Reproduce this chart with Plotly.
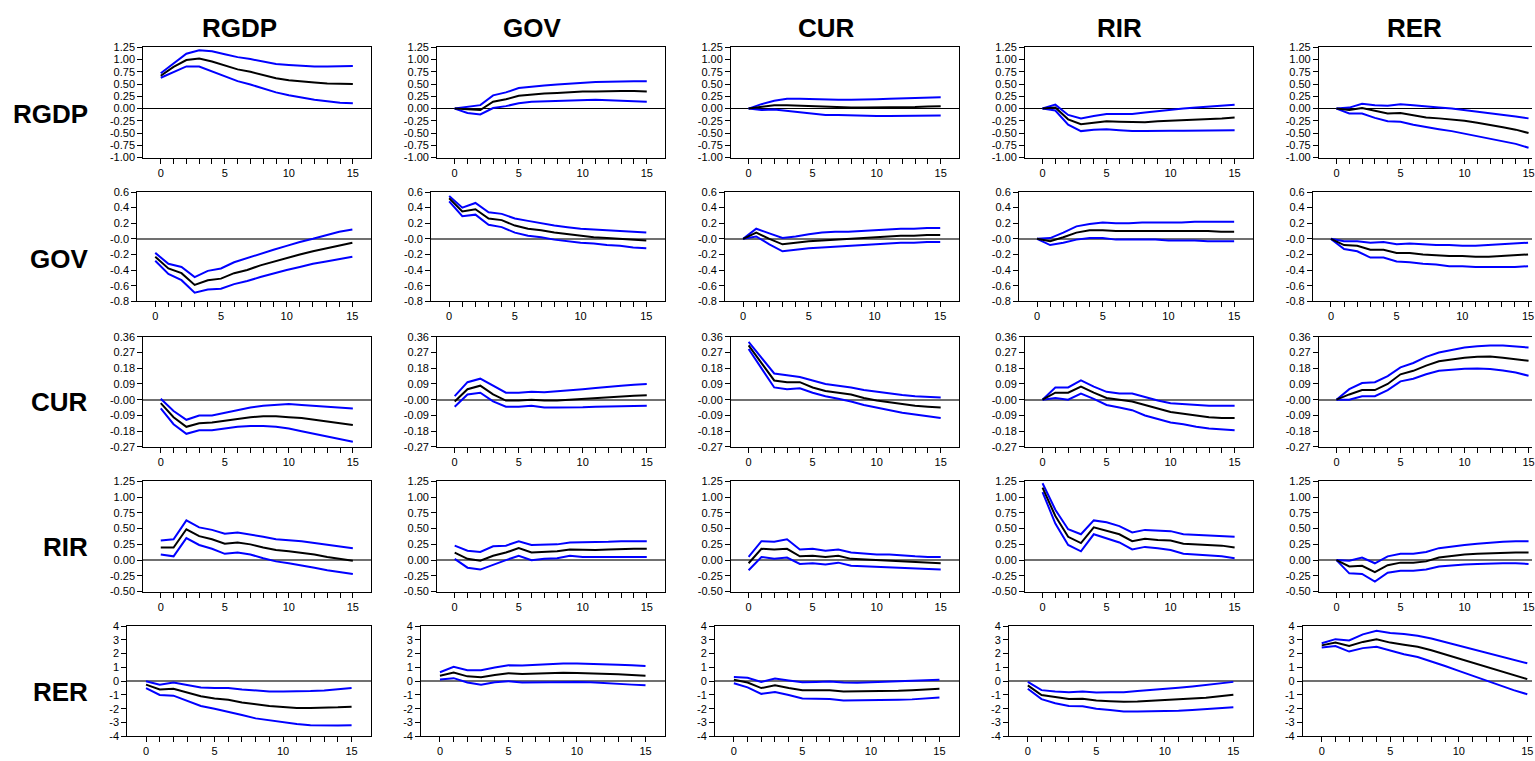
import plotly.graph_objects as go

# ---------------- data ----------------
horizons = list(range(16))
variables = ["RGDP", "GOV", "CUR", "RIR", "RER"]

# Row RGDP
RGDP_RGDP_mid = [0.67, 0.85, 0.99, 1.02, 0.96, 0.88, 0.80, 0.75, 0.68, 0.62, 0.58, 0.55, 0.53, 0.51, 0.50, 0.50]
RGDP_RGDP_hi = [0.72, 0.92, 1.12, 1.19, 1.17, 1.11, 1.05, 1.01, 0.96, 0.91, 0.89, 0.87, 0.86, 0.86, 0.87, 0.87]
RGDP_RGDP_lo = [0.63, 0.75, 0.86, 0.86, 0.76, 0.66, 0.56, 0.49, 0.41, 0.33, 0.27, 0.22, 0.18, 0.15, 0.12, 0.11]

RGDP_GOV_mid = [0.0, -0.02, -0.03, 0.14, 0.19, 0.26, 0.29, 0.31, 0.32, 0.34, 0.35, 0.35, 0.36, 0.36, 0.36, 0.35]
RGDP_GOV_hi = [0.0, 0.03, 0.07, 0.27, 0.33, 0.42, 0.45, 0.47, 0.49, 0.51, 0.53, 0.54, 0.55, 0.56, 0.56, 0.56]
RGDP_GOV_lo = [0.0, -0.09, -0.12, 0.01, 0.05, 0.11, 0.14, 0.15, 0.16, 0.17, 0.18, 0.18, 0.17, 0.16, 0.15, 0.14]

RGDP_CUR_mid = [0.0, 0.04, 0.07, 0.07, 0.06, 0.04, 0.03, 0.02, 0.02, 0.02, 0.02, 0.02, 0.03, 0.03, 0.04, 0.05]
RGDP_CUR_hi = [0.0, 0.09, 0.16, 0.20, 0.20, 0.19, 0.18, 0.18, 0.18, 0.18, 0.19, 0.20, 0.21, 0.22, 0.22, 0.23]
RGDP_CUR_lo = [0.0, -0.03, -0.02, -0.05, -0.08, -0.10, -0.13, -0.13, -0.14, -0.15, -0.15, -0.15, -0.15, -0.14, -0.14, -0.14]

RGDP_RIR_mid = [0.0, 0.02, -0.22, -0.32, -0.29, -0.26, -0.27, -0.28, -0.28, -0.26, -0.25, -0.24, -0.23, -0.21, -0.20, -0.18]
RGDP_RIR_hi = [0.0, 0.08, -0.13, -0.20, -0.15, -0.11, -0.11, -0.11, -0.08, -0.05, -0.02, 0.00, 0.02, 0.04, 0.06, 0.08]
RGDP_RIR_lo = [0.0, -0.04, -0.33, -0.46, -0.43, -0.42, -0.44, -0.46, -0.46, -0.45, -0.45, -0.45, -0.45, -0.45, -0.44, -0.44]

RGDP_RER_mid = [0.0, -0.03, 0.01, -0.05, -0.10, -0.09, -0.13, -0.18, -0.20, -0.22, -0.25, -0.29, -0.33, -0.38, -0.43, -0.50]
RGDP_RER_hi = [0.0, 0.02, 0.10, 0.07, 0.06, 0.09, 0.07, 0.04, 0.02, 0.00, -0.03, -0.06, -0.09, -0.12, -0.16, -0.20]
RGDP_RER_lo = [0.0, -0.10, -0.10, -0.19, -0.26, -0.27, -0.33, -0.38, -0.42, -0.46, -0.51, -0.56, -0.61, -0.66, -0.72, -0.80]

# Row GOV
GOV_RGDP_mid = [-0.23, -0.38, -0.44, -0.59, -0.53, -0.51, -0.44, -0.40, -0.34, -0.29, -0.24, -0.20, -0.16, -0.12, -0.09, -0.05]
GOV_RGDP_hi = [-0.18, -0.32, -0.36, -0.49, -0.41, -0.38, -0.30, -0.25, -0.19, -0.14, -0.09, -0.04, 0.00, 0.05, 0.09, 0.12]
GOV_RGDP_lo = [-0.28, -0.45, -0.53, -0.69, -0.65, -0.64, -0.58, -0.54, -0.49, -0.44, -0.40, -0.36, -0.32, -0.29, -0.26, -0.23]

GOV_GOV_mid = [0.52, 0.35, 0.38, 0.26, 0.24, 0.17, 0.13, 0.11, 0.08, 0.06, 0.04, 0.02, 0.01, 0.00, -0.01, -0.02]
GOV_GOV_hi = [0.55, 0.40, 0.46, 0.34, 0.32, 0.26, 0.23, 0.20, 0.17, 0.15, 0.13, 0.12, 0.11, 0.10, 0.09, 0.08]
GOV_GOV_lo = [0.48, 0.29, 0.31, 0.18, 0.15, 0.08, 0.04, 0.02, -0.01, -0.03, -0.05, -0.06, -0.08, -0.09, -0.11, -0.12]

GOV_CUR_mid = [0.0, 0.08, 0.00, -0.07, -0.05, -0.03, -0.02, -0.01, 0.00, 0.01, 0.02, 0.03, 0.04, 0.04, 0.05, 0.05]
GOV_CUR_hi = [0.0, 0.13, 0.07, 0.01, 0.03, 0.06, 0.08, 0.09, 0.09, 0.10, 0.11, 0.12, 0.13, 0.13, 0.14, 0.14]
GOV_CUR_lo = [0.0, 0.03, -0.07, -0.16, -0.14, -0.12, -0.11, -0.10, -0.09, -0.08, -0.07, -0.06, -0.05, -0.05, -0.04, -0.04]

GOV_RIR_mid = [0.0, -0.03, 0.02, 0.08, 0.11, 0.11, 0.10, 0.10, 0.10, 0.10, 0.10, 0.10, 0.10, 0.10, 0.09, 0.09]
GOV_RIR_hi = [0.0, 0.01, 0.08, 0.16, 0.19, 0.21, 0.20, 0.20, 0.21, 0.21, 0.21, 0.21, 0.22, 0.22, 0.22, 0.22]
GOV_RIR_lo = [0.0, -0.08, -0.05, -0.01, 0.01, 0.01, -0.01, -0.01, -0.01, -0.01, -0.02, -0.02, -0.02, -0.03, -0.03, -0.03]

GOV_RER_mid = [0.0, -0.08, -0.09, -0.14, -0.14, -0.18, -0.18, -0.20, -0.21, -0.22, -0.22, -0.23, -0.23, -0.22, -0.21, -0.20]
GOV_RER_hi = [0.0, -0.03, -0.03, -0.05, -0.04, -0.07, -0.06, -0.07, -0.08, -0.08, -0.09, -0.09, -0.08, -0.07, -0.06, -0.05]
GOV_RER_lo = [0.0, -0.13, -0.16, -0.24, -0.24, -0.29, -0.30, -0.32, -0.33, -0.35, -0.35, -0.36, -0.36, -0.36, -0.36, -0.35]

# Row CUR
CUR_RGDP_mid = [-0.02, -0.10, -0.155, -0.135, -0.13, -0.12, -0.11, -0.10, -0.095, -0.095, -0.10, -0.105, -0.115, -0.125, -0.135, -0.145]
CUR_RGDP_hi = [0.005, -0.065, -0.115, -0.09, -0.09, -0.075, -0.06, -0.045, -0.035, -0.03, -0.025, -0.03, -0.035, -0.04, -0.045, -0.05]
CUR_RGDP_lo = [-0.05, -0.14, -0.195, -0.175, -0.175, -0.165, -0.155, -0.15, -0.15, -0.155, -0.165, -0.18, -0.195, -0.21, -0.225, -0.24]

CUR_GOV_mid = [-0.01, 0.06, 0.08, 0.03, -0.005, -0.005, 0.0, -0.005, -0.005, 0.0, 0.005, 0.01, 0.015, 0.02, 0.022, 0.025]
CUR_GOV_hi = [0.02, 0.10, 0.12, 0.08, 0.04, 0.04, 0.045, 0.042, 0.047, 0.052, 0.06, 0.067, 0.075, 0.08, 0.085, 0.09]
CUR_GOV_lo = [-0.04, 0.03, 0.04, -0.01, -0.04, -0.04, -0.035, -0.045, -0.045, -0.045, -0.043, -0.04, -0.038, -0.037, -0.036, -0.035]

CUR_CUR_mid = [0.31, 0.21, 0.11, 0.10, 0.10, 0.07, 0.05, 0.04, 0.03, 0.01, -0.005, -0.015, -0.025, -0.035, -0.04, -0.045]
CUR_CUR_hi = [0.33, 0.24, 0.15, 0.14, 0.13, 0.11, 0.09, 0.08, 0.07, 0.055, 0.045, 0.035, 0.027, 0.02, 0.015, 0.013]
CUR_CUR_lo = [0.29, 0.18, 0.07, 0.06, 0.065, 0.04, 0.02, 0.005, -0.01, -0.03, -0.045, -0.06, -0.075, -0.085, -0.095, -0.105]

CUR_RIR_mid = [0.0, 0.04, 0.04, 0.075, 0.04, 0.01, 0.0, -0.01, -0.03, -0.05, -0.07, -0.08, -0.09, -0.10, -0.105, -0.105]
CUR_RIR_hi = [0.0, 0.07, 0.07, 0.11, 0.075, 0.045, 0.035, 0.035, 0.015, -0.005, -0.02, -0.025, -0.03, -0.035, -0.035, -0.035]
CUR_RIR_lo = [0.0, 0.01, 0.0, 0.035, 0.005, -0.03, -0.045, -0.06, -0.09, -0.11, -0.13, -0.14, -0.155, -0.165, -0.17, -0.175]

CUR_RER_mid = [0.0, 0.03, 0.055, 0.055, 0.09, 0.145, 0.165, 0.195, 0.22, 0.232, 0.24, 0.245, 0.247, 0.24, 0.232, 0.222]
CUR_RER_hi = [0.0, 0.06, 0.095, 0.10, 0.135, 0.185, 0.21, 0.245, 0.27, 0.285, 0.298, 0.305, 0.31, 0.31, 0.305, 0.298]
CUR_RER_lo = [0.0, 0.0, 0.02, 0.02, 0.055, 0.105, 0.12, 0.145, 0.165, 0.172, 0.177, 0.178, 0.175, 0.167, 0.155, 0.137]

# Row RIR
RIR_RGDP_mid = [0.20, 0.20, 0.49, 0.38, 0.33, 0.26, 0.28, 0.25, 0.20, 0.16, 0.14, 0.12, 0.09, 0.05, 0.02, -0.01]
RIR_RGDP_hi = [0.31, 0.33, 0.63, 0.52, 0.48, 0.42, 0.44, 0.41, 0.37, 0.33, 0.32, 0.30, 0.27, 0.24, 0.21, 0.19]
RIR_RGDP_lo = [0.09, 0.06, 0.35, 0.24, 0.18, 0.10, 0.12, 0.09, 0.03, -0.02, -0.05, -0.08, -0.12, -0.16, -0.19, -0.22]

RIR_GOV_mid = [0.12, 0.02, -0.01, 0.07, 0.12, 0.19, 0.12, 0.13, 0.14, 0.17, 0.16, 0.16, 0.17, 0.18, 0.18, 0.18]
RIR_GOV_hi = [0.23, 0.15, 0.13, 0.22, 0.23, 0.30, 0.24, 0.24, 0.25, 0.28, 0.28, 0.28, 0.29, 0.30, 0.30, 0.30]
RIR_GOV_lo = [0.02, -0.12, -0.15, -0.07, 0.00, 0.07, 0.00, 0.02, 0.03, 0.07, 0.05, 0.05, 0.05, 0.06, 0.05, 0.05]

RIR_CUR_mid = [-0.05, 0.18, 0.17, 0.18, 0.06, 0.07, 0.05, 0.07, 0.02, 0.01, -0.01, -0.01, -0.03, -0.04, -0.05, -0.05]
RIR_CUR_hi = [0.05, 0.30, 0.29, 0.33, 0.17, 0.18, 0.15, 0.17, 0.12, 0.10, 0.09, 0.09, 0.07, 0.06, 0.05, 0.05]
RIR_CUR_lo = [-0.16, 0.05, 0.02, 0.04, -0.06, -0.05, -0.07, -0.04, -0.09, -0.10, -0.11, -0.11, -0.13, -0.14, -0.15, -0.15]

RIR_RIR_mid = [1.15, 0.70, 0.37, 0.27, 0.52, 0.47, 0.41, 0.30, 0.34, 0.32, 0.31, 0.26, 0.25, 0.23, 0.23, 0.20]
RIR_RIR_hi = [1.22, 0.80, 0.49, 0.41, 0.63, 0.60, 0.54, 0.44, 0.48, 0.47, 0.46, 0.41, 0.40, 0.39, 0.39, 0.37]
RIR_RIR_lo = [1.08, 0.58, 0.24, 0.14, 0.41, 0.34, 0.28, 0.17, 0.21, 0.19, 0.16, 0.10, 0.09, 0.07, 0.06, 0.03]

RIR_RER_mid = [0.0, -0.10, -0.09, -0.19, -0.08, -0.04, -0.04, -0.02, 0.04, 0.07, 0.09, 0.10, 0.11, 0.12, 0.12, 0.12]
RIR_RER_hi = [0.0, -0.01, 0.04, -0.05, 0.06, 0.10, 0.10, 0.13, 0.19, 0.22, 0.24, 0.26, 0.28, 0.29, 0.30, 0.30]
RIR_RER_lo = [0.0, -0.21, -0.22, -0.34, -0.20, -0.17, -0.17, -0.15, -0.10, -0.08, -0.07, -0.06, -0.05, -0.05, -0.05, -0.06]

# Row RER
RER_RGDP_mid = [-0.25, -0.60, -0.55, -0.80, -1.10, -1.25, -1.35, -1.55, -1.70, -1.80, -1.88, -1.95, -1.95, -1.95, -1.90, -1.85]
RER_RGDP_hi = [0.0, -0.25, -0.10, -0.25, -0.45, -0.50, -0.50, -0.60, -0.70, -0.75, -0.75, -0.75, -0.72, -0.68, -0.60, -0.50]
RER_RGDP_lo = [-0.50, -1.00, -1.05, -1.40, -1.80, -2.00, -2.20, -2.45, -2.70, -2.85, -3.00, -3.10, -3.20, -3.22, -3.22, -3.20]

RER_GOV_mid = [0.40, 0.62, 0.35, 0.28, 0.45, 0.58, 0.52, 0.55, 0.60, 0.62, 0.60, 0.58, 0.55, 0.50, 0.45, 0.40]
RER_GOV_hi = [0.65, 1.05, 0.80, 0.80, 1.00, 1.15, 1.13, 1.18, 1.25, 1.28, 1.28, 1.27, 1.25, 1.20, 1.15, 1.10]
RER_GOV_lo = [0.12, 0.22, -0.10, -0.25, -0.08, 0.00, -0.10, -0.08, -0.05, -0.03, -0.05, -0.08, -0.12, -0.18, -0.25, -0.30]

RER_CUR_mid = [0.10, -0.10, -0.50, -0.30, -0.50, -0.65, -0.65, -0.65, -0.75, -0.75, -0.73, -0.72, -0.70, -0.65, -0.60, -0.55]
RER_CUR_hi = [0.30, 0.25, -0.05, 0.20, 0.05, -0.08, -0.05, -0.03, -0.10, -0.12, -0.08, -0.05, -0.03, 0.00, 0.05, 0.10]
RER_CUR_lo = [-0.15, -0.45, -0.92, -0.78, -1.00, -1.25, -1.27, -1.30, -1.40, -1.40, -1.40, -1.38, -1.35, -1.32, -1.25, -1.18]

RER_RIR_mid = [-0.30, -1.00, -1.15, -1.30, -1.28, -1.40, -1.45, -1.50, -1.48, -1.43, -1.38, -1.33, -1.28, -1.20, -1.10, -0.98]
RER_RIR_hi = [-0.05, -0.65, -0.75, -0.80, -0.75, -0.82, -0.80, -0.80, -0.72, -0.62, -0.55, -0.47, -0.38, -0.28, -0.17, -0.05]
RER_RIR_lo = [-0.55, -1.30, -1.60, -1.80, -1.82, -2.00, -2.10, -2.20, -2.20, -2.20, -2.18, -2.15, -2.10, -2.05, -1.98, -1.90]

RER_RER_mid = [2.60, 2.80, 2.55, 2.85, 3.05, 2.80, 2.65, 2.50, 2.25, 1.95, 1.65, 1.35, 1.05, 0.75, 0.45, 0.15]
RER_RER_hi = [2.75, 3.05, 2.95, 3.40, 3.65, 3.50, 3.42, 3.30, 3.10, 2.85, 2.60, 2.35, 2.10, 1.80, 1.55, 1.30]
RER_RER_lo = [2.45, 2.55, 2.15, 2.40, 2.50, 2.20, 1.95, 1.75, 1.45, 1.10, 0.75, 0.40, 0.00, -0.35, -0.65, -0.95]

# Axis ticks per row
row_tickvals = [
    [1.25, 1.0, 0.75, 0.5, 0.25, 0.0, -0.25, -0.5, -0.75, -1.0],
    [0.6, 0.4, 0.2, 0.0, -0.2, -0.4, -0.6, -0.8],
    [0.36, 0.27, 0.18, 0.09, 0.0, -0.09, -0.18, -0.27],
    [1.25, 1.0, 0.75, 0.5, 0.25, 0.0, -0.25, -0.5],
    [4, 3, 2, 1, 0, -1, -2, -3, -4],
]
row_ticktext = [
    ["1.25", "1.00", "0.75", "0.50", "0.25", "0.00", "-0.25", "-0.50", "-0.75", "-1.00"],
    ["0.6", "0.4", "0.2", "-0.0", "-0.2", "-0.4", "-0.6", "-0.8"],
    ["0.36", "0.27", "0.18", "0.09", "-0.00", "-0.09", "-0.18", "-0.27"],
    ["1.25", "1.00", "0.75", "0.50", "0.25", "0.00", "-0.25", "-0.50"],
    ["4", "3", "2", "1", "0", "-1", "-2", "-3", "-4"],
]
row_ranges = [(-1.0, 1.25), (-0.8, 0.6), (-0.27, 0.36), (-0.5, 1.25), (-4.0, 4.0)]
x_ticktext = [str(h) if h % 5 == 0 else "" for h in horizons]

panels = {}
for rv in variables:
    for sv in variables:
        g = globals()
        panels[(rv, sv)] = (g[f"{rv}_{sv}_lo"], g[f"{rv}_{sv}_mid"], g[f"{rv}_{sv}_hi"])

# ---------------- layout geometry (pixels) ----------------
W, H = 1535, 761
row_top = [42, 189, 336, 483, 630]
row_bot = [154, 300, 448, 595, 742]
row_width = [228, 234, 228, 228, 244]
col_right = [371.5, 666, 960.5, 1255, 1549.5]
X0, X1 = -1.37, 16.4

BLUE = "#0000FF"
FONT = "Liberation Sans, Arial, sans-serif"

fig = go.Figure()
layout = {}
for r, rv in enumerate(variables):
    for c, sv in enumerate(variables):
        k = r * 5 + c + 1
        right = col_right[c]
        left = right - row_width[r]
        ppu = row_width[r] / (X1 - X0)
        xmax = X1
        if right > W:
            xmax = X1 - (right - W) / ppu
            right = W
        lo, mid, hi = panels[(rv, sv)]
        xa = "x" if k == 1 else f"x{k}"
        ya = "y" if k == 1 else f"y{k}"
        for series, col in ((hi, BLUE), (lo, BLUE), (mid, "black")):
            fig.add_trace(go.Scatter(x=horizons, y=series, mode="lines",
                                     line=dict(color=col, width=2),
                                     xaxis=xa, yaxis=ya, showlegend=False,
                                     hoverinfo="skip"))
        layout[f"xaxis{k}"] = dict(
            domain=[left / W, right / W], anchor=ya, range=[X0, xmax],
            tickmode="array", tickvals=horizons, ticktext=x_ticktext,
            ticks="outside", ticklen=5, tickwidth=1, tickcolor="black",
            showline=True, linecolor="black", linewidth=1, mirror=True,
            showgrid=False, zeroline=False, ticklabeloverflow="allow",
            tickfont=dict(family=FONT, size=11, color="black"),
        )
        layout[f"yaxis{k}"] = dict(
            domain=[1 - row_bot[r] / H, 1 - row_top[r] / H], anchor=xa,
            range=list(row_ranges[r]),
            tickmode="array", tickvals=row_tickvals[r], ticktext=row_ticktext[r],
            ticks="outside", ticklen=5, tickwidth=1, tickcolor="black",
            showline=True, linecolor="black", linewidth=1,
            mirror=(c != 4),
            showgrid=False, zeroline=True,
            zerolinecolor="black" if r == 0 else "#707070",
            zerolinewidth=1 if r == 0 else 1.5,
            tickfont=dict(family=FONT, size=11, color="black"),
        )

col_title_x = [240, 533, 828, 1122, 1417]
row_label_y = [110, 257, 402, 550, 697]
annotations = []
for c, v in enumerate(variables):
    annotations.append(dict(text=f"<b>{v}</b>", x=col_title_x[c] / W, y=1 - 22 / H,
                            xref="paper", yref="paper", xanchor="center", yanchor="middle",
                            showarrow=False, font=dict(family=FONT, size=26, color="black")))
for r, v in enumerate(variables):
    annotations.append(dict(text=f"<b>{v}</b>", x=90 / W, y=1 - row_label_y[r] / H,
                            xref="paper", yref="paper", xanchor="right", yanchor="middle",
                            showarrow=False, font=dict(family=FONT, size=26, color="black")))

fig.update_layout(
    width=W, height=H, margin=dict(l=0, r=0, t=0, b=0),
    paper_bgcolor="white", plot_bgcolor="white",
    annotations=annotations, **layout,
)
fig.write_html("out.html", config={"displayModeBar": False})
